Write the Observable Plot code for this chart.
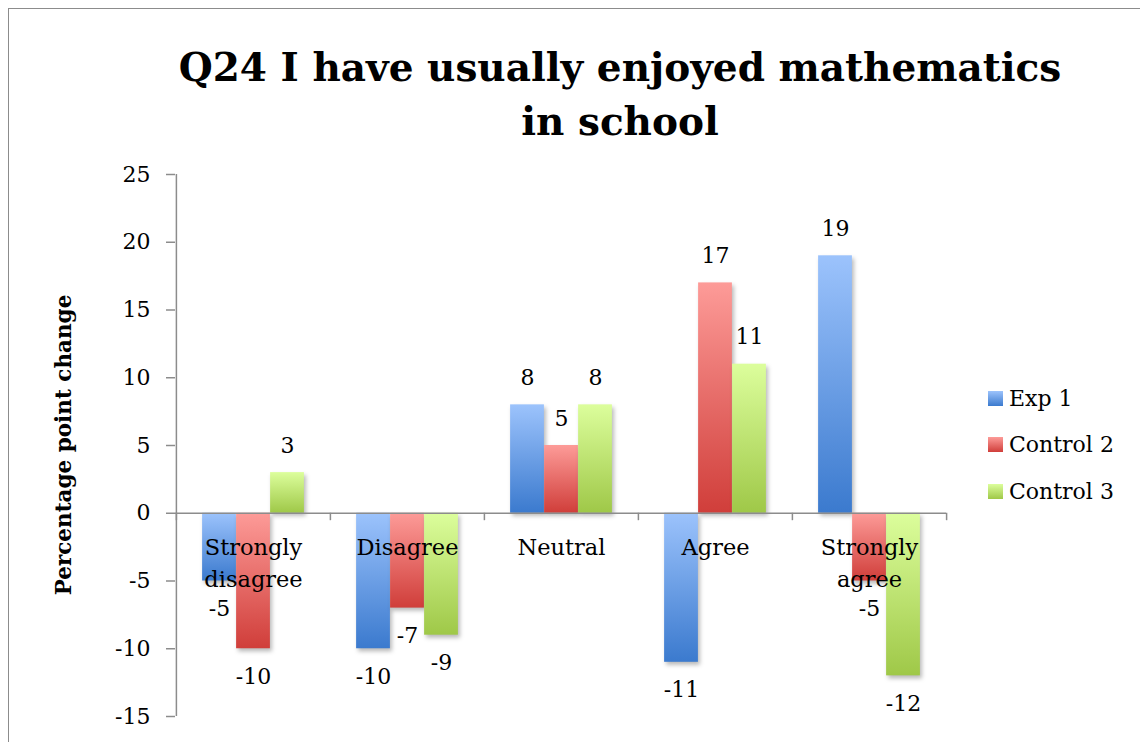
<!DOCTYPE html>
<html>
<head>
<meta charset="utf-8">
<script src="https://cdn.jsdelivr.net/npm/d3@7"></script>
<script src="https://cdn.jsdelivr.net/npm/@observablehq/plot@0.6"></script>
<style>
  html, body { margin: 0; padding: 0; background: #fff; }
  #wrap { position: relative; width: 1140px; height: 742px; overflow: hidden; font-family: "DejaVu Serif", serif; }
  #frame { position: absolute; left: 8px; top: 8px; width: 1200px; height: 800px; border-left: 1.5px solid #8c8c8c; border-top: 1.5px solid #8c8c8c; }
  #title { position: absolute; left: 0; width: 1240px; top: 40px; text-align: center; font-weight: bold; font-size: 39px; line-height: 54px; color: #000; }
  #ylabel { position: absolute; left: 63px; top: 445px; transform: translate(-50%, -50%) rotate(-90deg); white-space: nowrap; font-weight: bold; font-size: 21.5px; color: #000; }
  #chart { position: absolute; left: 0; top: 0; }
  #legend { position: absolute; left: 988px; top: 375px; font-size: 22px; color: #000; }
  .lg { display: flex; align-items: center; height: 46.5px; }
  .lg svg { margin-right: 6px; }
  g[aria-label="bar"] rect { filter: drop-shadow(2px 3px 2px rgba(0,0,0,0.28)); }
</style>
</head>
<body>
<svg width="0" height="0" style="position:absolute">
  <defs>
    <linearGradient id="gExp1" x1="0" y1="0" x2="0" y2="1">
      <stop offset="0" stop-color="#9cc3fc"/><stop offset="1" stop-color="#3b7ace"/>
    </linearGradient>
    <linearGradient id="gControl2" x1="0" y1="0" x2="0" y2="1">
      <stop offset="0" stop-color="#fd9b98"/><stop offset="1" stop-color="#d03e3a"/>
    </linearGradient>
    <linearGradient id="gControl3" x1="0" y1="0" x2="0" y2="1">
      <stop offset="0" stop-color="#dcfe9c"/><stop offset="1" stop-color="#9fc848"/>
    </linearGradient>
  </defs>
</svg>
<div id="wrap">
  <div id="frame"></div>
  <div id="chart"></div>
  <div id="title">Q24 I have usually enjoyed mathematics<br>in school</div>
  <div id="ylabel">Percentage point change</div>
  <div id="legend"></div>
</div>
<script>
const categories = ["Strongly\ndisagree", "Disagree", "Neutral", "Agree", "Strongly\nagree"];
const series = ["Exp 1", "Control 2", "Control 3"];
const exp1 = [-5, -10, 8, -11, 19];
const control2 = [-10, -7, 5, 17, -5];
const control3 = [3, -9, 8, 11, -12];
const yTicks = [-15, -10, -5, 0, 5, 10, 15, 20, 25];
const gradients = ["url(#gExp1)", "url(#gControl2)", "url(#gControl3)"];

const seriesValues = [exp1, control2, control3];
const W = 1140, H = 742;
const mL = 175, mR = W - 946, mT = 174, mB = H - 716;
const band = (W - mL - mR) / categories.length;
const barW = 34;
const groupStart = (band - barW * series.length) / 2;

const barMarks = [];
const labelMarks = [];
series.forEach((s, k) => {
  const rows = categories.map((c, i) => ({category: c, value: seriesValues[k][i]}));
  const insetLeft = groupStart + k * barW;
  const insetRight = band - insetLeft - barW;
  const dx = insetLeft + barW / 2 - band / 2;
  barMarks.push(Plot.barY(rows, {x: "category", y: "value", fill: gradients[k], insetLeft, insetRight}));
  labelMarks.push(Plot.text(rows.filter(d => d.value >= 0), {x: "category", y: "value", text: d => String(d.value), dx, dy: -27, fontSize: 22, fill: "#000"}));
  labelMarks.push(Plot.text(rows.filter(d => d.value < 0), {x: "category", y: "value", text: d => String(d.value), dx, dy: 28, fontSize: 22, fill: "#000"}));
});

const chart = Plot.plot({
  width: W, height: H,
  marginLeft: mL, marginRight: mR, marginTop: mT, marginBottom: mB,
  style: {fontFamily: "DejaVu Serif, serif", background: "transparent", overflow: "visible"},
  x: {domain: categories, padding: 0, axis: null},
  y: {domain: [-15, 25], axis: null},
  marks: [
    Plot.axisY(yTicks, {tickSize: 9, tickPadding: 16, fontSize: 22, tickFormat: d => String(d), stroke: "#8c8c8c", fill: "#000", strokeWidth: 1.5, label: null}),
    ...barMarks,
    Plot.ruleX([categories[0]], {x: d => d, dx: -band / 2, y1: -15, y2: 25, stroke: "#8c8c8c", strokeWidth: 1.5}),
    Plot.ruleY([0], {stroke: "#8c8c8c", strokeWidth: 1.5}),
    Plot.ruleX(categories, {x: d => d, dx: -band / 2, y1: 0, y2: -0.55, stroke: "#8c8c8c", strokeWidth: 1.5}),
    Plot.ruleX([categories[categories.length - 1]], {x: d => d, dx: band / 2, y1: 0, y2: -0.55, stroke: "#8c8c8c", strokeWidth: 1.5}),
    Plot.text(categories, {x: d => d, y: 0, text: d => d, lineAnchor: "top", dy: 19, fontSize: 22.5, fill: "#000", lineHeight: 1.42}),
    ...labelMarks
  ]
});
document.getElementById("chart").appendChild(chart);

const legend = document.getElementById("legend");
series.forEach((s, k) => {
  const row = document.createElement("div");
  row.className = "lg";
  row.innerHTML = `<svg width="15" height="15"><rect width="15" height="15" fill="${gradients[k]}"/></svg><span>${s}</span>`;
  legend.appendChild(row);
});
</script>
</body>
</html>
